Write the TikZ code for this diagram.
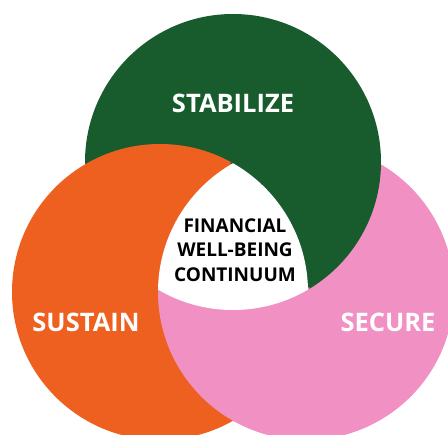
\documentclass[tikz,border=0pt]{standalone}
\usepackage{fontspec}
\setmainfont{Open Sans}
\definecolor{stabgreen}{RGB}{24,92,46}
\definecolor{sustorange}{RGB}{238,96,32}
\definecolor{secpink}{RGB}{241,145,195}

\begin{document}
\begin{tikzpicture}[x=1pt, y=-1pt,
    label/.style={font=\fontsize{25.5}{28}\selectfont\bfseries, text=white},
    core/.style={font=\fontsize{19}{24.5}\selectfont\bfseries, text=black, align=center}]
\useasboundingbox (0,0) rectangle (448,435);
\clip (0,0) rectangle (448,435);
% Circle centres
\coordinate (stab) at (233,162);
\coordinate (sust) at (160,292);
\coordinate (secu) at (306,292);
% Draw circles
\fill[stabgreen] (stab) circle[radius=148pt];
\fill[secpink] (secu) circle[radius=148pt];
\fill[sustorange] (sust) circle[radius=148pt];
% Green over pink
\begin{scope}[even odd rule]
    \clip (secu) circle[radius=149.5pt];
    \clip (-10,-10) rectangle (460,450) (sust) circle[radius=146.5pt];
    \fill[stabgreen] (stab) circle[radius=148pt];
\end{scope}
% Pink over orange
\begin{scope}[even odd rule]
    \clip (sust) circle[radius=149.5pt];
    \clip (-10,-10) rectangle (460,450) (stab) circle[radius=146.5pt];
    \fill[secpink] (secu) circle[radius=148pt];
\end{scope}
% White centre
\begin{scope}
    \clip (sust) circle[radius=148pt];
    \clip (secu) circle[radius=148pt];
    \fill[white] (stab) circle[radius=148pt];
\end{scope}
% Labels
\node[label] (stablabel) at (233,103) {STABILIZE};
\node[label] (sustlabel) at (86,322) {SUSTAIN};
\node[label] (seculabel) at (388,322) {SECURE};
\node[core] (corelabel) at (235,250) {FINANCIAL\\WELL-BEING\\CONTINUUM};
\end{tikzpicture}
\end{document}
